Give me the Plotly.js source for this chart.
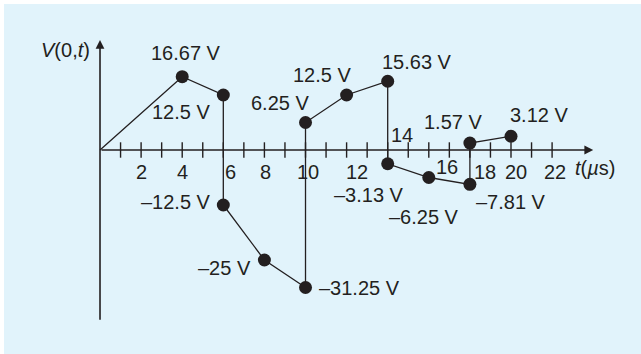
<!DOCTYPE html>
<html>
<head>
<meta charset="utf-8">
<script src="https://cdn.plot.ly/plotly-3.0.1.min.js"></script>
<style>
  html, body { margin: 0; padding: 0; background: #ffffff; }
  #chart { position: absolute; left: 4px; top: 4px; width: 637px; height: 350px; }
</style>
</head>
<body>
<div id="chart"></div>
<script>
// Reflection diagram: voltage at the source end vs time
const times = [0, 4, 6, 6, 8, 10, 10, 12, 14, 14, 16, 18, 18, 20];
const volts = [0, 16.67, 12.5, -12.5, -25, -31.25, 6.25, 12.5, 15.63, -3.13, -6.25, -7.81, 1.57, 3.12];
const tickValues = [1, 2, 3, 4, 5, 6, 7, 8, 9, 10, 11, 12, 13, 14, 15, 16, 17, 18, 19, 20, 21, 22];
const tickLabels = ["2", "4", "6", "8", "10", "12", "14", "16", "18", "20", "22"];
const labelledTicks = [2, 4, 6, 8, 10, 12, 14, 16, 18, 20, 22];

const ink = "#231f20";
const font = { family: "Liberation Sans, Arial, sans-serif", size: 20, color: ink };

// pixel nudges for the value labels (one per dot, origin excluded)
const labelShift = [
  [4, 24], [-42, -17], [-47, 3], [-40, -8], [54, 0], [-26, 20],
  [-25, 20], [29, 19], [-19, -31], [-5, -39], [41, -18], [-17, 21], [28, 21]
];
// pixel nudges for the time tick labels
const tickShift = {
  2: [0, -22], 4: [0, -22], 6: [7, -22], 8: [1, -22], 10: [2, -22], 12: [10, -22],
  14: [14, 15], 16: [18, -17], 18: [15, -22], 20: [5, -22], 22: [3, -22]
};

function fmt(v) {
  return String(v).replace("-", "\u2013") + " V";
}

const lineTrace = {
  x: times,
  y: volts,
  type: "scatter",
  mode: "lines",
  line: { color: ink, width: 1.3 },
  hoverinfo: "skip",
};

const dotTrace = {
  x: times.slice(1),
  y: volts.slice(1),
  type: "scatter",
  mode: "markers",
  marker: { color: ink, size: 13 },
  hoverinfo: "skip",
};

const tickTrace = {
  x: tickValues,
  y: tickValues.map(() => 0),
  type: "scatter",
  mode: "markers",
  marker: { symbol: "line-ns", size: 11, line: { color: ink, width: 1.4 } },
  hoverinfo: "skip",
};

const annotations = [];

// axes with arrowheads
annotations.push({
  x: 24, y: 0, ax: 0, ay: 0, axref: "x", ayref: "y", xref: "x", yref: "y",
  text: "", showarrow: true, arrowhead: 2, arrowsize: 1.1, arrowwidth: 1.6,
  arrowcolor: ink, standoff: 0,
});
annotations.push({
  x: 0, y: 25, ax: 0, ay: -38.9, axref: "x", ayref: "y", xref: "x", yref: "y",
  text: "", showarrow: true, arrowhead: 2, arrowsize: 1.1, arrowwidth: 1.6,
  arrowcolor: ink, standoff: 0,
});

// value labels
times.slice(1).forEach((t, i) => {
  annotations.push({
    x: t, y: volts[i + 1], xref: "x", yref: "y",
    text: fmt(volts[i + 1]), showarrow: false, font: font,
    xshift: labelShift[i][0], yshift: labelShift[i][1],
  });
});

// tick labels
labelledTicks.forEach((t, i) => {
  annotations.push({
    x: t, y: 0, xref: "x", yref: "y",
    text: tickLabels[i], showarrow: false, font: font,
    xshift: tickShift[t][0], yshift: tickShift[t][1],
  });
});

// axis titles
annotations.push({
  x: 0, y: 22.7, xref: "x", yref: "y", xanchor: "right", xshift: -8,
  text: "<i>V</i>(0,<i>t</i>)", showarrow: false, font: font,
});
annotations.push({
  x: 23.0, y: 0, xref: "x", yref: "y", xanchor: "left", yshift: -18,
  text: "<i>t</i>(<i>\u00b5</i>s)", showarrow: false, font: font,
});

const layout = {
  width: 637,
  height: 350,
  margin: { l: 0, r: 0, t: 0, b: 0, pad: 0 },
  paper_bgcolor: "#e1f3fb",
  plot_bgcolor: "rgba(0,0,0,0)",
  showlegend: false,
  xaxis: { range: [-4.672, 26.326], visible: false, fixedrange: true },
  yaxis: { range: [-46.364, 33.182], visible: false, fixedrange: true },
  annotations: annotations,
};

Plotly.newPlot("chart", [lineTrace, tickTrace, dotTrace], layout, { displayModeBar: false, staticPlot: true });
</script>
</body>
</html>
